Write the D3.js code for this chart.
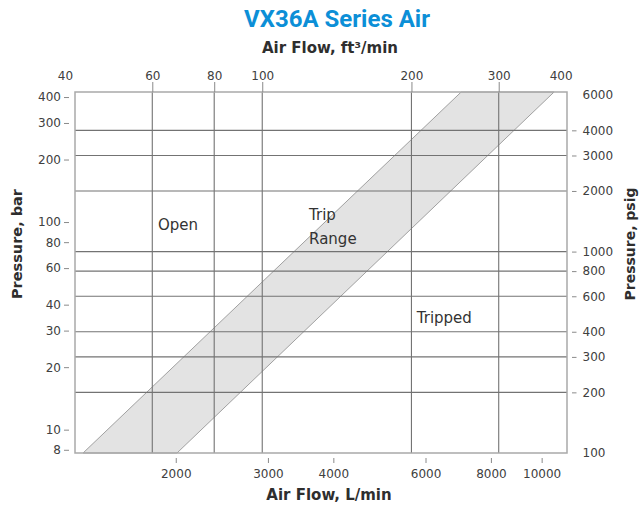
<!DOCTYPE html>
<html><head><meta charset="utf-8">
<script src="https://cdn.jsdelivr.net/npm/d3@7"></script>
<style>body{margin:0;background:#fff}svg{display:block}</style>
</head><body><svg id="c" width="641" height="507"></svg>
<script>
// ---- data ----
const cfmTicks = [40, 60, 80, 100, 200, 300, 400];
const cfmGrid = [60, 80, 100, 200, 300];
const lpmTicks = [2000, 3000, 4000, 6000, 8000, 10000];
const barTicks = [400, 300, 200, 100, 80, 60, 40, 30, 20, 10, 8];
const psigTicks = [6000, 4000, 3000, 2000, 1000, 800, 600, 400, 300, 200, 100];
const psigGrid = [4000, 3000, 2000, 1000, 800, 600, 400, 300, 200];
const bandPsig = [100, 6200];
const tripLowCfm = [43.5, 252];
const tripHighCfm = [67.3, 388];
const labelText = ["Open", "Trip", "Range", "Tripped"];
const labelCfm = [67.6, 124.3, 124.3, 205];
const labelPsig = [1281, 1435, 1091, 442];
const labelAnchor = ["middle", "start", "start", "start"];
// fitted axis extents
const cfmDomain = [41.9, 412];
const lpmDomain = [1284, 11180];
const barDomain = [7.72, 423];
const psigDomain = [100, 6200];

// ---- layout ----
const L = 75, R = 567, T = 92, B = 453;
const svg = d3.select("#c");
const font = "'DejaVu Sans', Verdana, sans-serif";

const xTop = d3.scaleLog().domain(cfmDomain).range([L, R]);
const xBot = d3.scaleLog().domain(lpmDomain).range([L, R]);
const yRight = d3.scaleLog().domain(psigDomain).range([B, T]);
const yLeft = d3.scaleLog().domain(barDomain).range([B, T]);

// band
const bandPts = [
  [xTop(tripLowCfm[0]), yRight(bandPsig[0])],
  [xTop(tripLowCfm[1]), yRight(bandPsig[1])],
  [xTop(tripHighCfm[1]), yRight(bandPsig[1])],
  [xTop(tripHighCfm[0]), yRight(bandPsig[0])]
];
svg.append("path")
  .attr("d", d3.line()(bandPts) + "Z")
  .attr("fill", "#e3e3e3")
  .attr("stroke", "#a0a0a0")
  .attr("stroke-width", 1);

// grid
svg.append("g").selectAll("line").data(psigGrid).join("line")
  .attr("x1", L).attr("x2", R)
  .attr("y1", d => yRight(d)).attr("y2", d => yRight(d))
  .attr("stroke", "#737373").attr("stroke-width", 1.1);
svg.append("g").selectAll("line").data(cfmGrid).join("line")
  .attr("y1", T).attr("y2", B)
  .attr("x1", d => xTop(d)).attr("x2", d => xTop(d))
  .attr("stroke", "#737373").attr("stroke-width", 1.1);

// frame
svg.append("rect").attr("x", L).attr("y", T).attr("width", R - L).attr("height", B - T)
  .attr("fill", "none").attr("stroke", "#a9a9a9").attr("stroke-width", 1.5);

function styleAxis(g) {
  g.select(".domain").remove();
  g.selectAll(".tick line").attr("stroke", "#8a8a8a").attr("stroke-width", 1);
  g.selectAll(".tick text").attr("fill", "#404040").style("font-family", font).style("font-size", "12px");
}

// top axis
const gTop = svg.append("g").attr("transform", `translate(0,${T})`)
  .call(d3.axisTop(xTop).tickValues(cfmTicks).tickFormat(d3.format("d")).tickSize(10).tickPadding(2.5))
  .call(styleAxis);
gTop.selectAll(".tick").filter(d => d === 40 || d === 400).select("line").remove();

// bottom axis
svg.append("g").attr("transform", `translate(0,${B + 5})`)
  .call(d3.axisBottom(xBot).tickValues(lpmTicks).tickFormat(d3.format("d")).tickSize(5).tickPadding(6))
  .call(styleAxis);

// left axis
svg.append("g").attr("transform", `translate(${L - 6},0)`)
  .call(d3.axisLeft(yLeft).tickValues(barTicks).tickFormat(d3.format("d")).tickSize(5).tickPadding(3))
  .call(styleAxis);

// right axis
const gRight = svg.append("g").attr("transform", `translate(${R + 5},0)`)
  .call(d3.axisRight(yRight).tickValues(psigTicks).tickFormat(d3.format("d")).tickSize(4.5).tickPadding(6))
  .call(styleAxis);
gRight.selectAll(".tick").filter(d => d === 6000 || d === 100).select("line").remove();

// region labels
svg.append("g").selectAll("text").data(labelText).join("text")
  .attr("x", (d, i) => xTop(labelCfm[i]))
  .attr("y", (d, i) => yRight(labelPsig[i]))
  .attr("text-anchor", (d, i) => labelAnchor[i])
  .attr("fill", "#333")
  .style("font-family", font).style("font-size", "15px")
  .text(d => d);

// titles
svg.append("text").attr("x", 337).attr("y", 27).attr("text-anchor", "middle")
  .attr("fill", "#0c8fd7").style("font-family", "Roboto, 'Open Sans', sans-serif")
  .style("font-weight", "bold").style("font-size", "24px").text("VX36A Series Air");
const tstyle = (s, size) => s.attr("fill", "#2e2e2e").style("font-family", font).style("font-weight", "bold").style("font-size", size).attr("text-anchor", "middle");
svg.append("text").attr("x", 330).attr("y", 53).call(tstyle, "15px").text("Air Flow, ft³/min");
svg.append("text").attr("x", 329).attr("y", 500).call(tstyle, "15px").text("Air Flow, L/min");
svg.append("text").attr("transform", "translate(22,244) rotate(-90)").call(tstyle, "14.5px").text("Pressure, bar");
svg.append("text").attr("transform", "translate(635,244) rotate(-90)").call(tstyle, "14px").text("Pressure, psig");
</script></body></html>
